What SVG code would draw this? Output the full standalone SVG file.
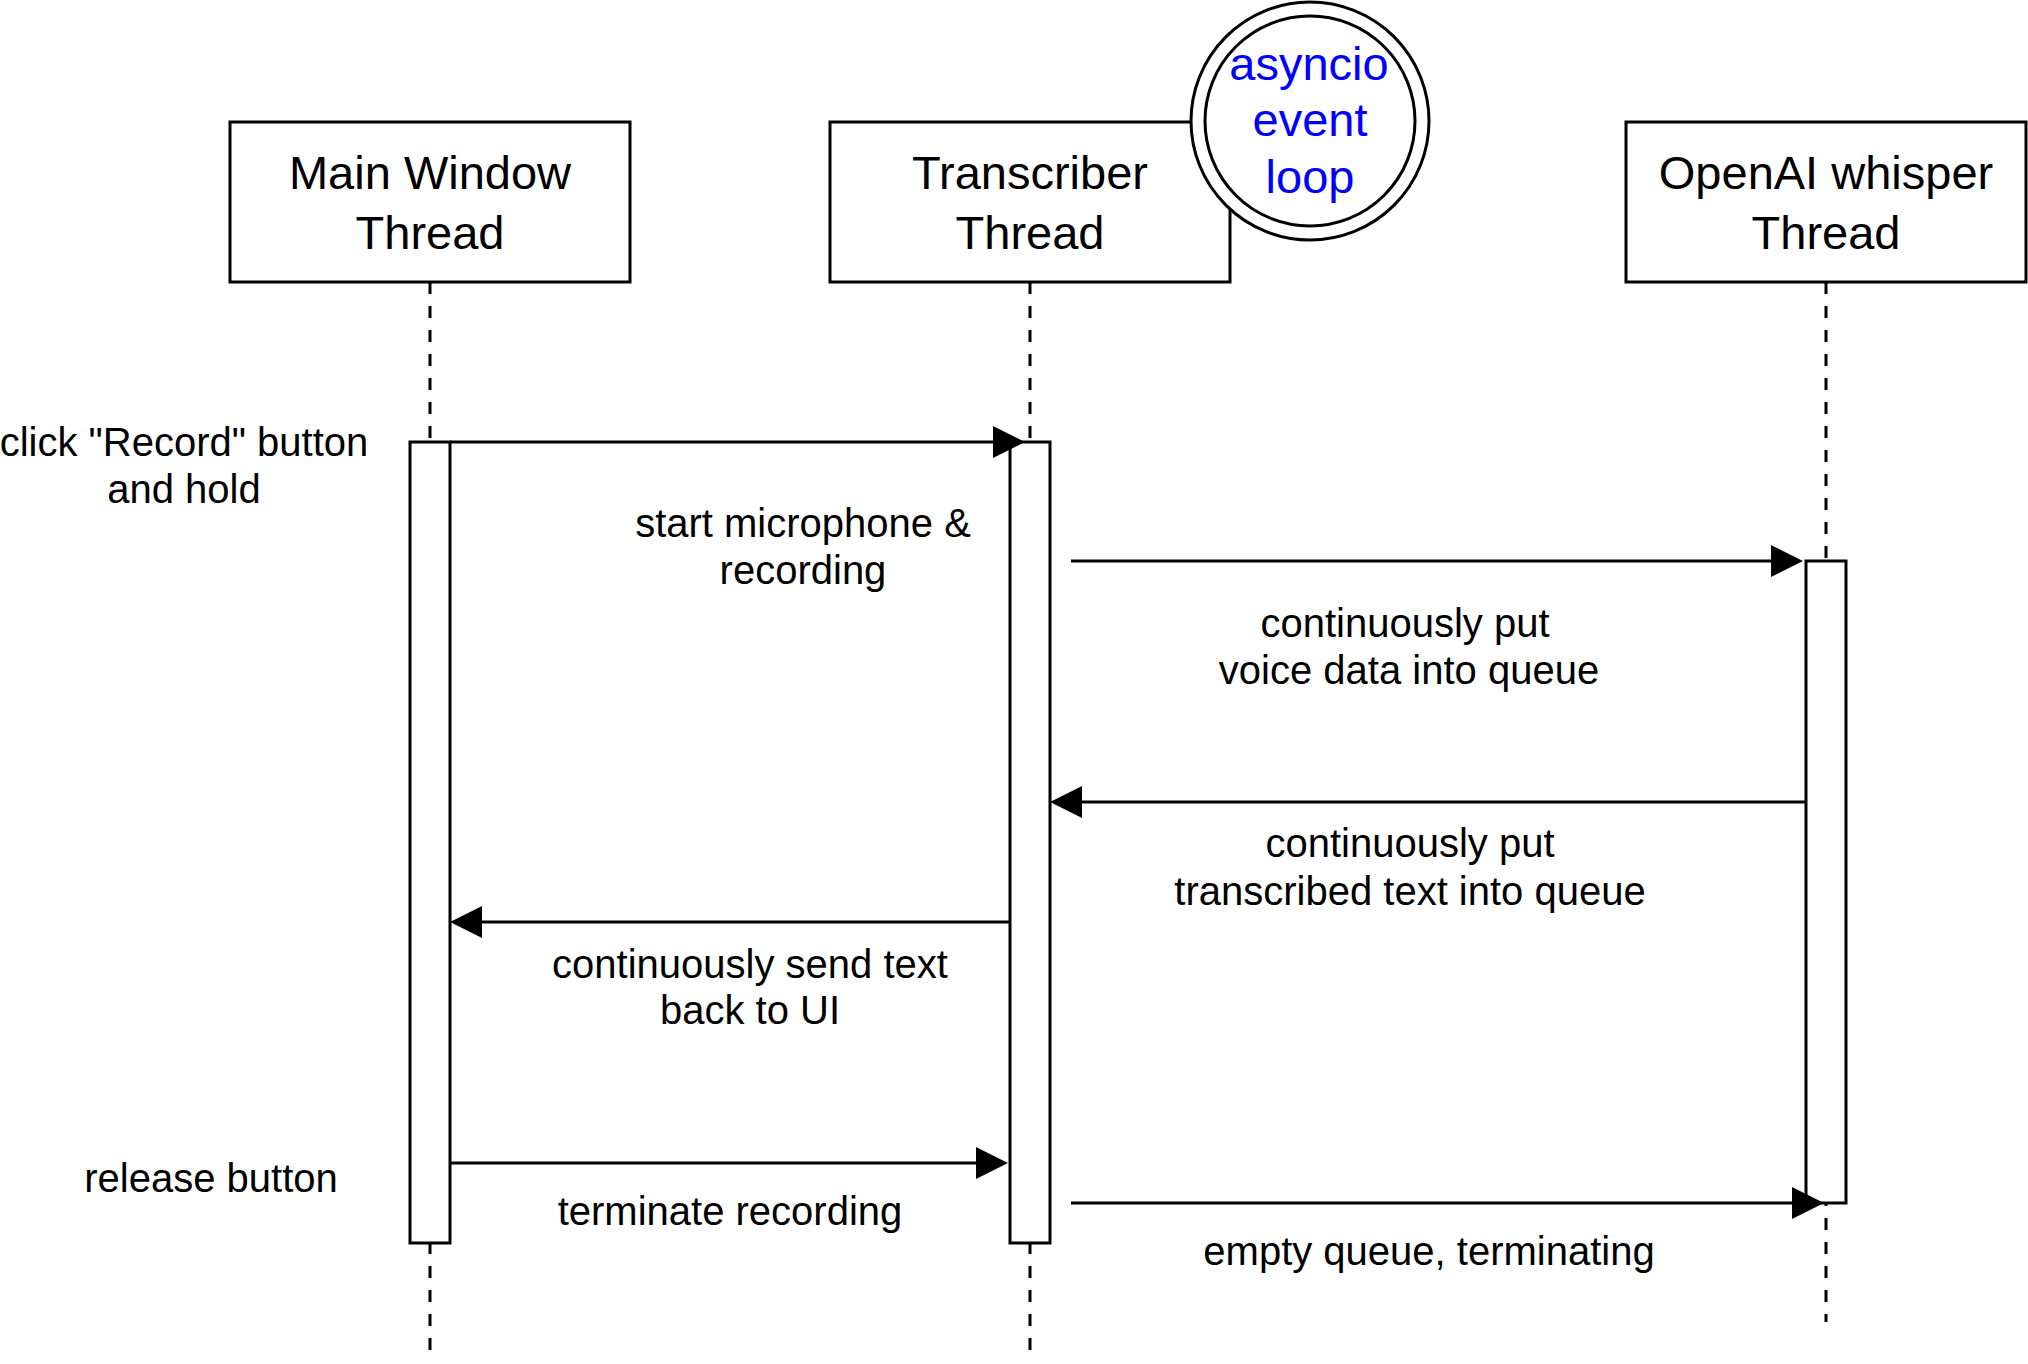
<svg xmlns="http://www.w3.org/2000/svg" width="2028" height="1364" viewBox="0 0 2028 1364">
  <style>
    .box { fill: #ffffff; stroke: #000000; stroke-width: 3; }
    .life { stroke: #000000; stroke-width: 3; stroke-dasharray: 12 12; fill: none; }
    .act { fill: #ffffff; stroke: #000000; stroke-width: 3; }
    .msg { stroke: #000000; stroke-width: 3; fill: none; marker-end: url(#arrow); }
    .title { font-family: "Liberation Sans", Arial, Helvetica, sans-serif; font-size: 47px; fill: #000000; text-anchor: middle; }
    .lbl { font-family: "Liberation Sans", Arial, Helvetica, sans-serif; font-size: 40px; fill: #000000; text-anchor: middle; }
    .blue { font-family: "Liberation Sans", Arial, Helvetica, sans-serif; font-size: 47px; fill: #0000ff; text-anchor: middle; }
  </style>
  <defs>
    <marker id="arrow" markerUnits="userSpaceOnUse" markerWidth="32" markerHeight="32" refX="12" refY="16" orient="auto">
      <path d="M0,0 L32,16 L0,32 Z" fill="#000000"/>
    </marker>
  </defs>
  <rect width="2028" height="1364" fill="#ffffff"/>

  <g id="lifelines">
    <line class="life" x1="430" y1="282" x2="430" y2="1351"/>
    <line class="life" x1="1030" y1="282" x2="1030" y2="1351"/>
    <line class="life" x1="1826" y1="282" x2="1826" y2="1322"/>
  </g>

  <g id="main-window-thread">
    <rect class="box" x="230" y="122" width="400" height="160"/>
    <text class="title" x="430" y="189">Main Window</text>
    <text class="title" x="430" y="249">Thread</text>
  </g>

  <g id="transcriber-thread">
    <rect class="box" x="830" y="122" width="400" height="160"/>
    <text class="title" x="1030" y="189">Transcriber</text>
    <text class="title" x="1030" y="249">Thread</text>
  </g>

  <g id="asyncio-event-loop">
    <circle cx="1310" cy="121" r="119" fill="#ffffff" stroke="#000000" stroke-width="3"/>
    <circle cx="1310" cy="121" r="105" fill="#ffffff" stroke="#000000" stroke-width="3"/>
    <text class="blue" x="1309" y="80">asyncio</text>
    <text class="blue" x="1310" y="136">event</text>
    <text class="blue" x="1310" y="193">loop</text>
  </g>

  <g id="openai-whisper-thread">
    <rect class="box" x="1626" y="122" width="400" height="160"/>
    <text class="title" x="1826" y="189">OpenAI whisper</text>
    <text class="title" x="1826" y="249">Thread</text>
  </g>

  <g id="activations">
    <rect id="act-main" class="act" x="410" y="442" width="40" height="801"/>
    <rect id="act-transcriber" class="act" x="1010" y="442" width="40" height="801"/>
    <rect id="act-openai" class="act" x="1806" y="561" width="40" height="642"/>
  </g>

  <g id="connectors">
    <line class="msg" x1="450" y1="442" x2="1005" y2="442"/>
    <line class="msg" x1="1071" y1="561" x2="1783" y2="561"/>
    <line class="msg" x1="1806" y1="802" x2="1070" y2="802"/>
    <line class="msg" x1="1010" y1="922" x2="470" y2="922"/>
    <line class="msg" x1="450" y1="1163" x2="988" y2="1163"/>
    <line class="msg" x1="1071" y1="1203" x2="1804" y2="1203"/>
  </g>

  <g id="labels">
    <text class="lbl" x="184" y="456">click "Record" button</text>
    <text class="lbl" x="184" y="503">and hold</text>
    <text class="lbl" x="803" y="537">start microphone &amp;</text>
    <text class="lbl" x="803" y="584">recording</text>
    <text class="lbl" x="1405" y="637">continuously put</text>
    <text class="lbl" x="1409" y="684">voice data into queue</text>
    <text class="lbl" x="1410" y="857">continuously put</text>
    <text class="lbl" x="1410" y="905">transcribed text into queue</text>
    <text class="lbl" x="750" y="978">continuously send text</text>
    <text class="lbl" x="750" y="1024">back to UI</text>
    <text class="lbl" x="211" y="1192">release button</text>
    <text class="lbl" x="730" y="1225">terminate recording</text>
    <text class="lbl" x="1429" y="1265">empty queue, terminating</text>
  </g>
</svg>
